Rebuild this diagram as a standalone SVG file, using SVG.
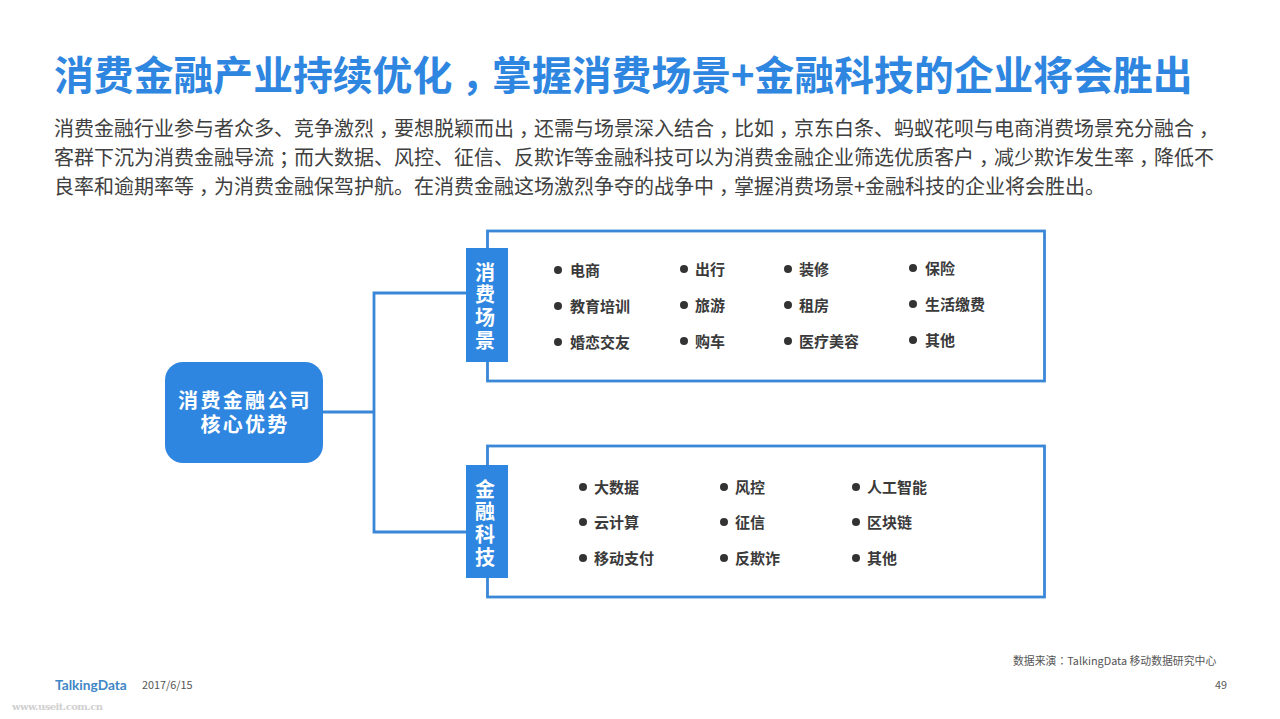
<svg xmlns="http://www.w3.org/2000/svg" width="1280" height="719" viewBox="0 0 1280 719">
<style>
text{font-family:"Noto Sans CJK SC","Noto Sans",sans-serif}
.p{font-family:"Noto Sans CJK TC","Noto Sans",sans-serif}
.c{letter-spacing:-5px}
.title{font-size:39.85px;font-weight:700;fill:#2e86e0}
.body{font-size:20px;fill:#404040}
.item{font-size:15px;font-weight:700;fill:#3a3a3a;dominant-baseline:central;transform:translateY(-1px)}
.dot{fill:#333}
.conn{fill:none;stroke:#3a87d8;stroke-width:2.800}
.box{fill:#fff;stroke:#3a87d8;stroke-width:2.800}
.blue{fill:#2e86e0}
.lab{font-size:20px;font-weight:700;fill:#fff;writing-mode:vertical-rl;letter-spacing:2.700px}
.root{font-size:20px;font-weight:700;fill:#fff;text-anchor:middle;letter-spacing:2.300px}
.small{font-size:10.850px;fill:#555}
</style>
<rect width="1280" height="719" fill="#fff"/>
<text class="title" x="54" y="90">消费金融产业持续优化<tspan dx="9" letter-spacing="-9">，</tspan>掌握消费场景+金融科技的企业将会胜出</text>
<g id="intro">
<text class="body" x="54" y="136">消费金融行业参与者众多、竞争激烈<tspan class="c" dx="5">，</tspan>要想脱颖而出<tspan class="c" dx="5">，</tspan>还需与场景深入结合<tspan class="c" dx="5">，</tspan>比如<tspan class="c" dx="5">，</tspan>京东白条、蚂蚁花呗与电商消费场景充分融合<tspan class="c" dx="5">，</tspan></text>
<text class="body" x="54" y="165">客群下沉为消费金融导流<tspan class="c" dx="5">；</tspan>而大数据、风控、征信、反欺诈等金融科技可以为消费金融企业筛选优质客户<tspan class="c" dx="5">，</tspan>减少欺诈发生率<tspan class="c" dx="5">，</tspan>降低不</text>
<text class="body" x="54" y="194">良率和逾期率等<tspan class="c" dx="5">，</tspan>为消费金融保驾护航。在消费金融这场激烈争夺的战争中<tspan class="c" dx="5">，</tspan>掌握消费场景+金融科技的企业将会胜出。</text>
</g>
<g id="connectors">
<path class="conn" d="M323 412H374M466 293H374V532H466"/>
</g>
<g id="root">
<rect class="blue" x="165" y="362" width="158" height="101" rx="18"/>
<text class="root"><tspan x="245" y="408">消费金融公司</tspan><tspan x="245" y="432">核心优势</tspan></text>
</g>
<g id="scene">
<rect class="box" x="487.500" y="231" width="557" height="150"/>
<rect class="blue" x="466" y="248" width="42" height="114"/>
<text class="lab" x="485" y="262">消费场景</text>
<g id="scene-items">
<circle class="dot" cx="558" cy="270" r="4"/><text class="item" x="570" y="270">电商</text>
<circle class="dot" cx="558" cy="306" r="4"/><text class="item" x="570" y="306">教育培训</text>
<circle class="dot" cx="558" cy="342" r="4"/><text class="item" x="570" y="342">婚恋交友</text>
<circle class="dot" cx="684" cy="269" r="4"/><text class="item" x="695" y="269">出行</text>
<circle class="dot" cx="684" cy="305" r="4"/><text class="item" x="695" y="305">旅游</text>
<circle class="dot" cx="684" cy="341" r="4"/><text class="item" x="695" y="341">购车</text>
<circle class="dot" cx="788" cy="269" r="4"/><text class="item" x="799" y="269">装修</text>
<circle class="dot" cx="788" cy="305" r="4"/><text class="item" x="799" y="305">租房</text>
<circle class="dot" cx="788" cy="341" r="4"/><text class="item" x="799" y="341">医疗美容</text>
<circle class="dot" cx="913" cy="268" r="4"/><text class="item" x="925" y="268">保险</text>
<circle class="dot" cx="913" cy="304" r="4"/><text class="item" x="925" y="304">生活缴费</text>
<circle class="dot" cx="913" cy="340" r="4"/><text class="item" x="925" y="340">其他</text>
</g>
</g>
<g id="fintech">
<rect class="box" x="487.500" y="446" width="557" height="151"/>
<rect class="blue" x="466" y="465" width="42" height="113"/>
<text class="lab" x="485" y="479">金融科技</text>
<g id="fintech-items">
<circle class="dot" cx="583" cy="487" r="4"/><text class="item" x="594" y="487">大数据</text>
<circle class="dot" cx="583" cy="522" r="4"/><text class="item" x="594" y="522">云计算</text>
<circle class="dot" cx="583" cy="558" r="4"/><text class="item" x="594" y="558">移动支付</text>
<circle class="dot" cx="724" cy="487" r="4"/><text class="item" x="735" y="487">风控</text>
<circle class="dot" cx="724" cy="522" r="4"/><text class="item" x="735" y="522">征信</text>
<circle class="dot" cx="724" cy="558" r="4"/><text class="item" x="735" y="558">反欺诈</text>
<circle class="dot" cx="856" cy="487" r="4"/><text class="item" x="867" y="487">人工智能</text>
<circle class="dot" cx="856" cy="522" r="4"/><text class="item" x="867" y="522">区块链</text>
<circle class="dot" cx="856" cy="558" r="4"/><text class="item" x="867" y="558">其他</text>
</g>
</g>
<g id="footer">
<text class="small" x="1013" y="665">数据来演<tspan class="p">：</tspan>TalkingData 移动数据研究中心</text>
<text class="small" x="1215" y="689">49</text>
<text x="55" y="690" font-size="13.700" font-weight="700" fill="#3f86c6" style="font-family:Lato,sans-serif">TalkingData</text>
<text class="small" x="142" y="689">2017/6/15</text>
<text x="12" y="710" font-size="10" font-weight="700" fill="#d0d0d0" style="font-family:'DejaVu Serif',serif" textLength="91">www.useit.com.cn</text>
</g>
</svg>
